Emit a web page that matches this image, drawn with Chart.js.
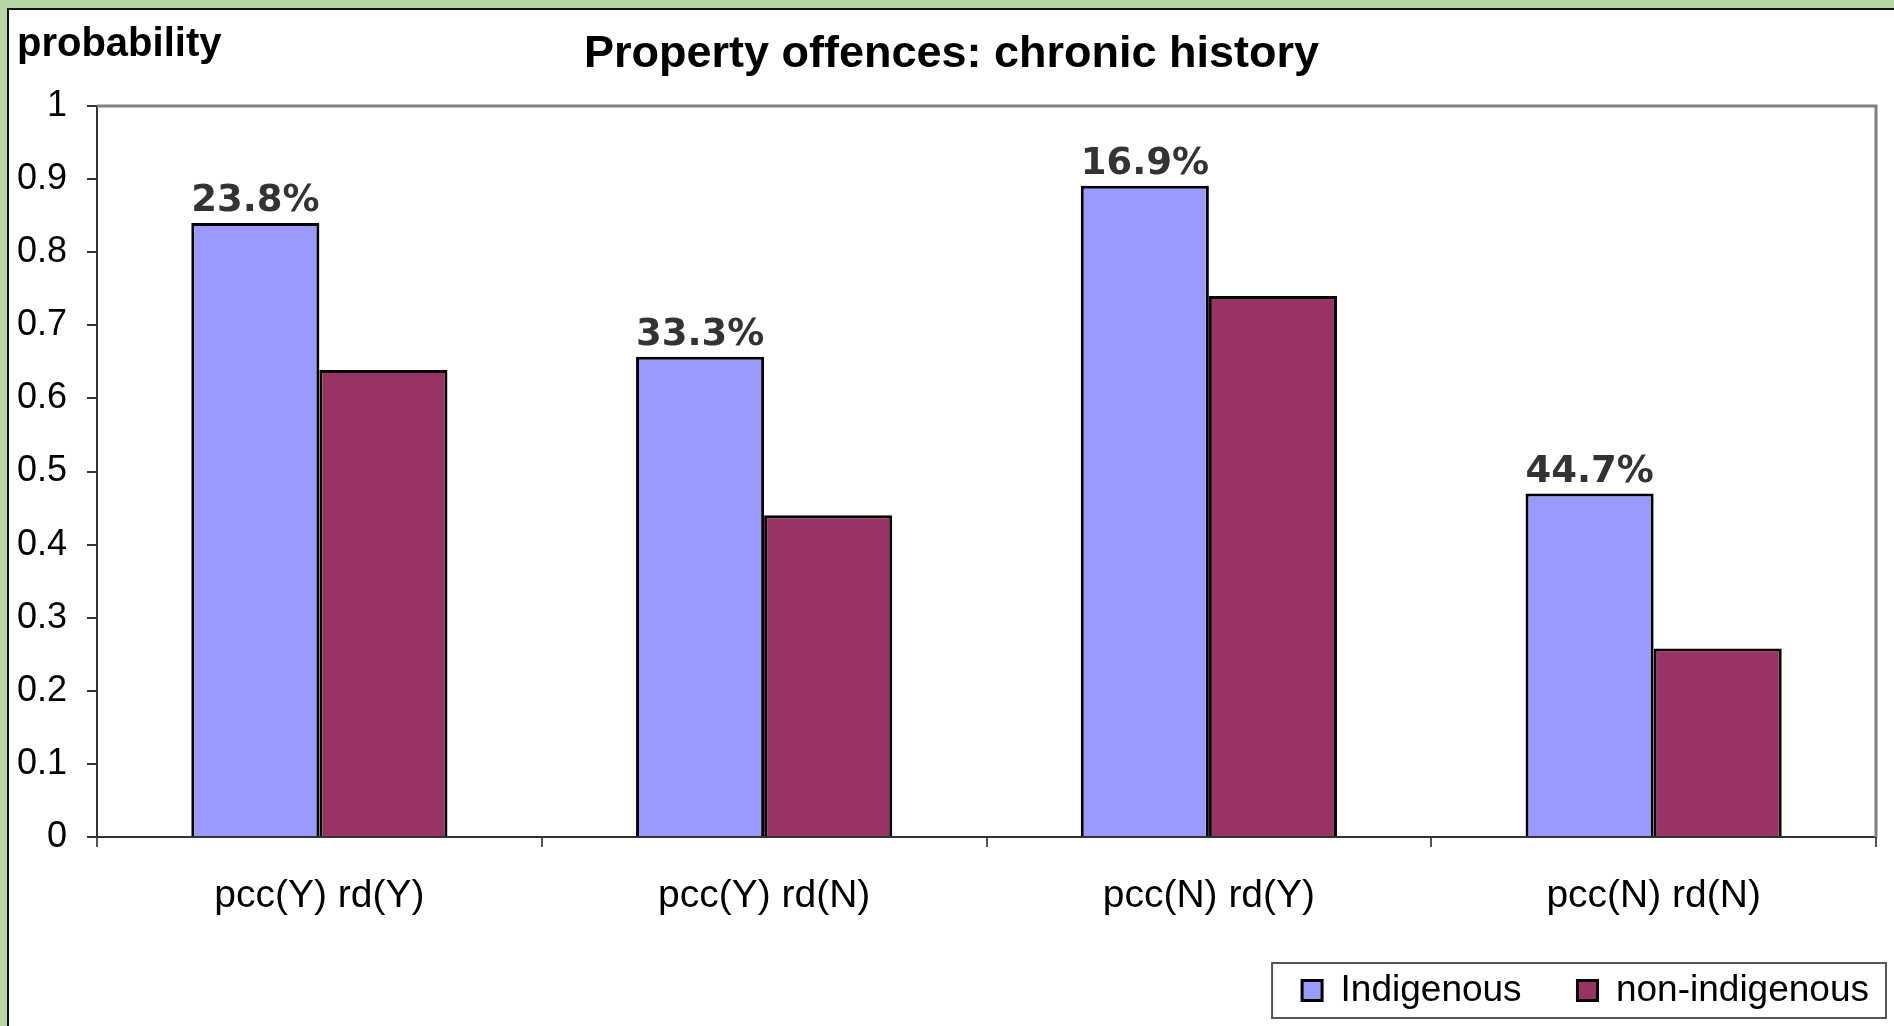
<!DOCTYPE html>
<html>
<head>
<meta charset="utf-8">
<script src="https://cdn.jsdelivr.net/npm/chart.js@4.4.0/dist/chart.umd.min.js"></script>
<style>
  html, body { margin: 0; padding: 0; }
  body { width: 1894px; height: 1026px; background: #b7d6a6; overflow: hidden; position: relative; }
  #wrap { position: absolute; left: 7px; top: 8px; width: 1887px; height: 1018px; background: #fff;
          border-left: 2px solid #111; border-top: 2px solid #111; }
  #myChart { display: block; }
</style>
</head>
<body>
<div id="wrap"><canvas id="myChart" width="1885" height="1016"></canvas></div>
<script>
const categories = ['pcc(Y) rd(Y)', 'pcc(Y) rd(N)', 'pcc(N) rd(Y)', 'pcc(N) rd(N)'];
const indigenous = [0.84, 0.657, 0.891, 0.47];
const nonIndigenous = [0.639, 0.44, 0.74, 0.258];
const pctLabels = ['23.8%', '33.3%', '16.9%', '44.7%'];

// gray frame on top/right of plot area, like excel
const plotFrame = {
  id: 'plotFrame',
  beforeDatasetsDraw(chart) {
    const a = chart.chartArea;
    const c = chart.ctx;
    c.save();
    c.strokeStyle = '#808080';
    c.lineWidth = 3;
    c.beginPath();
    c.moveTo(a.left, a.top);
    c.lineTo(a.right, a.top);
    c.lineTo(a.right, a.bottom);
    c.stroke();
    c.restore();
  }
};

// percent labels over the Indigenous bars + "probability" text + legend border
const extras = {
  id: 'extras',
  afterDatasetsDraw(chart) {
    const c = chart.ctx;
    const meta = chart.getDatasetMeta(0);
    c.save();
    c.font = 'bold 37px "DejaVu Sans"';
    c.fillStyle = '#333333';
    c.textAlign = 'center';
    c.textBaseline = 'bottom';
    meta.data.forEach((bar, i) => {
      c.fillText(pctLabels[i], bar.x, bar.y - 3);
    });
    c.restore();
  },
  afterDraw(chart) {
    const c = chart.ctx;
    c.save();
    c.font = 'bold 40px "Liberation Sans"';
    c.fillStyle = '#000';
    c.textAlign = 'left';
    c.textBaseline = 'middle';
    c.fillText('probability', 8, 35);
    const boxes = chart.legend.legendHitBoxes;
    if (boxes && boxes.length) {
      let l = Infinity, r = -Infinity, t = Infinity, b = -Infinity;
      boxes.forEach(h => {
        l = Math.min(l, h.left); r = Math.max(r, h.left + h.width);
        t = Math.min(t, h.top); b = Math.max(b, h.top + h.height);
      });
      c.strokeStyle = '#555';
      c.lineWidth = 2;
      c.strokeRect(l - 30, t - 9, (r - l) + 47, (b - t) + 18);
    }
    c.restore();
  }
};

const ctx = document.getElementById('myChart').getContext('2d');
const myChart = new Chart(ctx, {
  type: 'bar',
  data: {
    labels: categories,
    datasets: [{
      label: 'Indigenous',
      data: indigenous,
      backgroundColor: '#9999ff',
      borderColor: '#000000',
      borderWidth: 3,
      borderSkipped: 'bottom',
      categoryPercentage: 0.576,
      barPercentage: 1
    }, {
      label: 'non-indigenous',
      data: nonIndigenous,
      backgroundColor: '#993366',
      borderColor: '#000000',
      borderWidth: 3,
      borderSkipped: 'bottom',
      categoryPercentage: 0.576,
      barPercentage: 1
    }]
  },
  options: {
    responsive: false,
    animation: false,
    layout: { padding: { left: 0, right: 0, top: 0, bottom: 7 } },
    plugins: {
      title: {
        display: true,
        text: 'Property offences: chronic history',
        color: '#000',
        font: { family: 'Liberation Sans', size: 45, weight: 'bold' },
        padding: { top: 18, bottom: 24 }
      },
      legend: {
        position: 'bottom',
        align: 'end',
        labels: {
          color: '#000',
          font: { family: 'Liberation Sans', size: 37 },
          boxWidth: 20,
          boxHeight: 20,
          padding: 25,
          // widen the gap after the first entry
          generateLabels(chart) {
            const items = Chart.defaults.plugins.legend.labels.generateLabels(chart);
            items[0].text = items[0].text + '   ';
            return items;
          }
        }
      },
      tooltip: { enabled: false }
    },
    scales: {
      x: {
        offset: true,
        grid: { offset: true, drawOnChartArea: false, tickLength: 10, color: '#555', lineWidth: 2 },
        border: { color: '#333', width: 2 },
        ticks: { color: '#000', font: { family: 'Liberation Sans', size: 39 }, padding: 26, maxRotation: 0 },
        afterFit(scale) { scale.height = 110; }
      },
      y: {
        min: 0,
        max: 1,
        ticks: {
          stepSize: 0.1, color: '#000', font: { family: 'Liberation Sans', size: 36 }, padding: 20,
          callback: (v) => String(Math.round(v * 10) / 10)
        },
        grid: { drawOnChartArea: false, tickLength: 10, color: '#333', lineWidth: 2 },
        border: { color: '#333', width: 2 },
        afterFit(scale) { scale.width = 88; }
      },
      yRight: {
        position: 'right',
        display: true,
        ticks: { display: false },
        grid: { display: false },
        border: { display: false },
        afterFit(scale) { scale.width = 18; }
      }
    }
  },
  plugins: [plotFrame, extras]
});
</script>
</body>
</html>
